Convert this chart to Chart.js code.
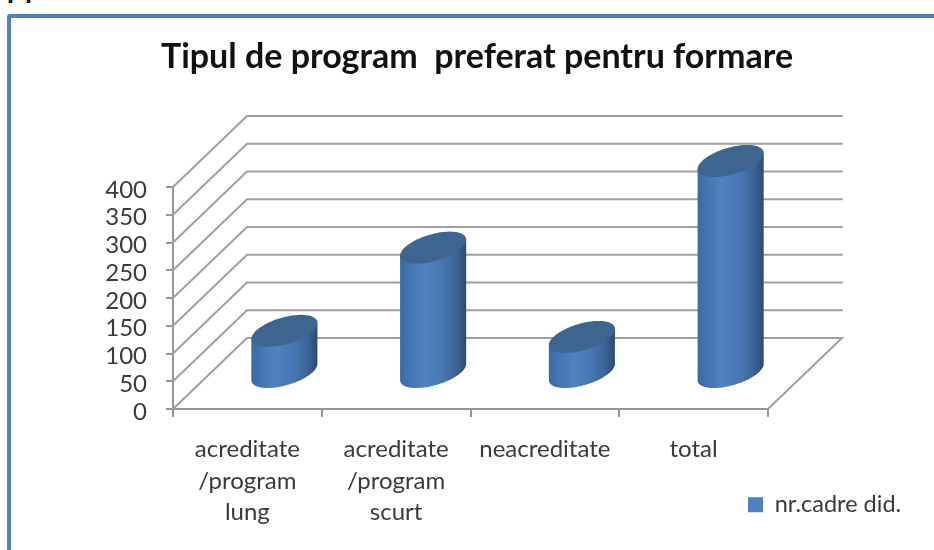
<!DOCTYPE html>
<html><head><meta charset="utf-8">
<style>
html,body{margin:0;padding:0;background:#fff;width:934px;height:550px;overflow:hidden}
#frame{position:absolute;left:7px;top:14px;width:1000px;height:620px;border:4px solid #4F81BD;border-radius:3px;box-sizing:border-box}
#note{position:absolute;left:5px;top:-20px;font:bold 25px "Liberation Sans",sans-serif;color:#111;letter-spacing:6px}
#wrap{position:absolute;left:0;top:0;width:934px;height:550px}
canvas{filter:blur(0.45px)}
</style>
<script src="https://cdn.jsdelivr.net/npm/chart.js@4"></script>
</head><body>
<div id="note">7.</div>
<div id="frame"></div>
<div id="wrap"><canvas id="c" width="934" height="550"></canvas></div>
<script>
const chartTitle = 'Tipul de program  preferat pentru formare';
const seriesName = 'nr.cadre did.';
const categories = [['acreditate','/program','lung'],['acreditate','/program','scurt'],['neacreditate'],['total']];
const values = [76, 226, 65, 382];
const FONT = 'Lato';
const DEPTH_X = 74, DEPTH_Y = 71;       // back-wall offset
const BAR_X = 37, BAR_Y = 36;           // bars stand mid-floor
const RX = 28.5, SX = 16.7, SY = 16;    // sheared ellipse
const GRID = '#A0A0A0', AXIS = '#969696', TEXT = '#3A3A3A';

function ellipsePoint(cx, cy, t){
  return [cx + RX*Math.cos(t) + SX*Math.sin(t), cy - SY*Math.sin(t)];
}
const tLeft = Math.atan2(-SX, -RX), tRight = Math.atan2(SX, RX);

const scene3d = {
  id:'scene3d',
  beforeLayout(chart){
    const lg = chart.legend;
    if(lg && !lg._pinned){
      const fit = lg.fit;
      lg.fit = function(){ fit.call(this); this.width = 166; };
      lg._pinned = true;
    }
  },
  afterLayout(chart){
    const lg = chart.legend;
    lg.left = 738; lg.right = 934; lg.top = 483; lg.bottom = 530;
    const tb = chart.titleBlock;
    tb.left += 10; tb.right += 10; tb.top = 40; tb.bottom = 74;
    const y = chart.scales.y;
    if(!y._shifted){
      const draw = y.drawLabels;
      y.drawLabels = function(area){
        chart.ctx.save(); chart.ctx.translate(0,3);
        draw.call(this, area);
        chart.ctx.restore();
      };
      y._shifted = true;
    }
  },
  beforeDatasetsDraw(chart){
    const {ctx, chartArea:a, scales:{y}} = chart;
    ctx.save();
    ctx.lineWidth = 2; ctx.strokeStyle = GRID; ctx.lineCap='round';
    y.ticks.forEach(t=>{
      const py = y.getPixelForValue(t.value);
      ctx.beginPath();
      ctx.moveTo(a.left, py);
      ctx.lineTo(a.left+DEPTH_X, py-DEPTH_Y);
      ctx.lineTo(a.right+DEPTH_X, py-DEPTH_Y);
      if(t.value === 0) ctx.lineTo(a.right, py);
      ctx.stroke();
    });
    ctx.restore();
  },
  beforeDatasetDraw(chart, args){
    const {ctx} = chart;
    const meta = chart.getDatasetMeta(args.index);
    meta.data.forEach(el=>{
      const cx = el.x + BAR_X, top = el.y - BAR_Y, base = el.base - BAR_Y;
      const halfW = Math.hypot(RX, SX);
      const g = ctx.createLinearGradient(cx-halfW,0,cx+halfW,0);
      g.addColorStop(0,'#3A6AA2');
      g.addColorStop(.12,'#4373AE');
      g.addColorStop(.36,'#5082C2');
      g.addColorStop(.62,'#4878B4');
      g.addColorStop(.84,'#3C6699');
      g.addColorStop(1,'#2C4A70');
      ctx.save();
      ctx.beginPath();
      const N=60;
      let sweep = tRight - tLeft; if(sweep<0) sweep += 2*Math.PI;
      for(let i=0;i<=N;i++){
        const p = ellipsePoint(cx, base, tLeft + sweep*i/N);
        i?ctx.lineTo(p[0],p[1]):ctx.moveTo(p[0],p[1]);
      }
      const tr = ellipsePoint(cx, top, tRight), tl = ellipsePoint(cx, top, tLeft);
      ctx.lineTo(tr[0],tr[1]); ctx.lineTo(tl[0],tl[1]);
      ctx.closePath();
      ctx.fillStyle = g; ctx.fill();
      ctx.beginPath();
      for(let i=0;i<=N;i++){
        const p = ellipsePoint(cx, top, 2*Math.PI*i/N);
        i?ctx.lineTo(p[0],p[1]):ctx.moveTo(p[0],p[1]);
      }
      ctx.closePath();
      ctx.fillStyle = '#3D658F'; ctx.fill();
      ctx.restore();
    });
    return false;
  }
};

new Chart(document.getElementById('c'),{
  type:'bar',
  data:{labels:categories,datasets:[{label:seriesName,data:values,backgroundColor:'#4F81BD',borderWidth:0,barPercentage:.5}]},
  plugins:[scene3d],
  options:{
    responsive:false,animation:false,
    layout:{padding:{top:153,left:0,right:0,bottom:0}},
    plugins:{
      tooltip:{enabled:false},
      title:{display:true,text:chartTitle,padding:0,color:'#111',font:{family:FONT,size:34,weight:'bold',lineHeight:1}},
      legend:{display:true,position:'right',align:'start',
        labels:{boxWidth:15,boxHeight:15,padding:10,color:TEXT,font:{family:FONT,size:23.5}}}
    },
    scales:{
      x:{
        afterFit(s){s.height=141;},
        grid:{display:true,drawOnChartArea:false,drawTicks:true,tickLength:8,color:AXIS,offset:true,lineWidth:2},
        border:{display:true,color:AXIS,width:2},
        ticks:{autoSkip:false,maxRotation:0,minRotation:0,padding:17,color:TEXT,font:{family:FONT,size:24,lineHeight:1.3}}
      },
      y:{
        afterFit(s){s.width=173;},
        min:0,max:400,
        grid:{display:true,drawOnChartArea:false,drawTicks:true,tickLength:7,color:AXIS,lineWidth:2},
        border:{display:true,color:AXIS,width:2},
        ticks:{autoSkip:false,stepSize:50,padding:19,color:TEXT,font:{family:FONT,size:24}}
      }
    }
  }
});
</script>
</body></html>
